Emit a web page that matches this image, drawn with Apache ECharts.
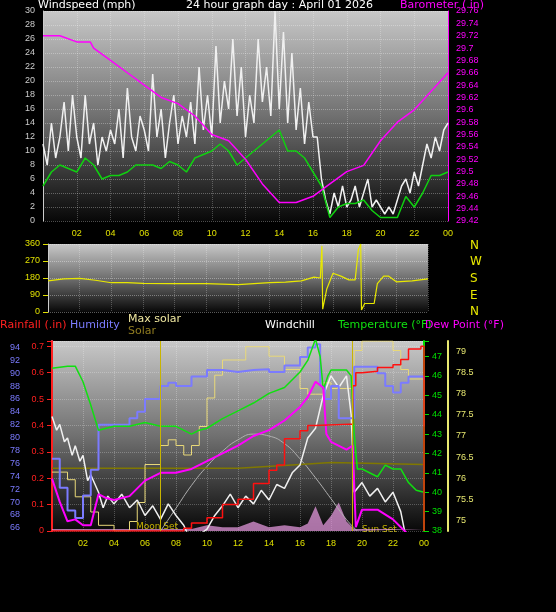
<!DOCTYPE html>
<html><head><meta charset="utf-8">
<script src="https://cdn.jsdelivr.net/npm/echarts@6/dist/echarts.min.js"></script>
<style>body{margin:0;background:#000}#c{width:556px;height:612px}</style>
</head><body><div id="c"></div>
<script>
// wind gust, one value every 15 minutes
const gust = [11,8,14,9,12,17,10,18,12, 9,18,11,14,8,12,10,13, 11,16,9,19,12,10,15,13,
  10,21,12,16,9,14,18,11, 15,12,17,11,22,13,18,12, 25,14,20,16,26,15,22,12,
  18,14,26,17,22,15,30,16, 27,14,24,13,19,11,17,12, 12,6,3,1,4,2,5,2,
  3,5,2,4,6,2,3,2, 1,2,1,3,5,6,4,7, 5,8,11,9,12,10,13,14];
// average wind, every 30 minutes
const windAvg = [5,7,8,7.5,7,9,8,6,6.5,6.5,7,8,8,8,7.5,8.5,8,7,9,9.5,10,11,10,8,9,10,11,12,13,10,10,9,7,5,0.5,2,2.5,2.5,3,1.5,0.5,0.5,0.5,3.5,2,4,6.5,6.5,7];
const baro = [[0,29.72],[1,29.72],[2,29.71],[2.8,29.71],[3,29.70],[4,29.68],[5,29.66],[6,29.64],[7,29.62],[8,29.61],[9,29.59],[10,29.56],[11,29.55],[12,29.52],[13,29.48],[14,29.45],[15,29.45],[16,29.46],[17,29.48],[18,29.50],[19,29.51],[20,29.55],[21,29.58],[22,29.60],[23,29.63],[24,29.66]];
const windDir = [[0,165],[1,175],[2,178],[3,168],[4,155],[5,155],[6,152],[8,150],[10,150],[12,145],[13,150],[14,155],[15,158],[16,165],[16.8,185],[17.2,180],[17.3,350],[17.35,15],[17.6,120],[18,205],[18.5,190],[19,170],[19.4,170],[19.6,330],[19.75,360],[19.8,10],[20,45],[20.6,45],[20.8,150],[21.2,190],[21.5,190],[22,160],[23,165],[24,175]];
const temp = [[0,46.4],[1,46.5],[1.5,46.5],[2,45.7],[2.5,44.5],[3,43.2],[3.5,43.3],[4,43.4],[5,43.4],[6,43.6],[7,43.4],[8,43.4],[9,43],[9.5,43.2],[10,43.3],[11,43.8],[12,44.2],[13,44.6],[14,45.1],[15,45.4],[16,46.2],[16.5,46.8],[17,47.9],[17.3,47],[17.5,45.3],[17.8,46],[18,46.3],[19,46.3],[19.3,46],[19.5,43],[19.7,41.2],[20,41.2],[21,40.8],[21.5,41.4],[22,41.2],[22.5,41.2],[23,40.5],[23.5,40.1],[24,40]];
const dew = [[0,40.7],[0.5,39.5],[1,38.5],[1.5,38.6],[2,38.3],[2.5,38.3],[3,39.9],[3.5,39.7],[4,39.6],[5,39.8],[6,40.6],[7,41],[8,41],[9,41.2],[10,41.6],[11,42],[12,42.4],[13,42.9],[14,43.2],[15,43.7],[16,44.4],[16.5,44.9],[17,45.7],[17.5,45.4],[17.7,43],[18,42.6],[19,42.2],[19.4,42.4],[19.6,38.2],[20,39.1],[21,39.1],[22,38.6],[23,37.8],[23.5,37.4],[24,37.2]];
const humidity = [[0,76.7],[0.5,72.2],[1,68.7],[1.5,67.5],[2,71],[2.5,75],[3,82],[3.5,82],[4,82],[5,83],[5.5,84],[6,86],[7,88],[7.5,88.5],[8,88],[9,89.5],[10,90.5],[11,90.2],[12,90.5],[13,90.6],[14,90.2],[15,91.2],[16,92.5],[16.5,94],[17,94.5],[17.3,88],[17.6,86],[18,88],[18.5,83],[19,83],[19.5,91],[20,91],[21,90],[21.5,88],[22,87],[22.5,88.5],[23,89.5],[24,89]];
const rain = [[0,0],[8,0],[8.5,0.01],[9,0.03],[10,0.05],[11,0.1],[12,0.12],[13,0.18],[14,0.23],[14.5,0.25],[15,0.35],[16,0.38],[16.5,0.4],[17,0.405],[19.2,0.405],[19.4,0.55],[19.6,0.6],[20,0.605],[21,0.62],[22,0.63],[22.5,0.65],[23,0.69],[23.8,0.7],[24,0.7],[24,0]];
const windchill = [[0,43.9],[0.3,43.2],[0.5,43.5],[0.8,42.6],[1,42.8],[1.3,41.9],[1.5,42.4],[1.8,41.6],[2,41.9],[2.3,40.6],[2.5,40.9],[3,40],[3.3,39.2],[3.6,39.8],[4,39.4],[4.5,39.9],[5,39.2],[5.5,39.6],[6,38.8],[6.5,39.3],[7,38.6],[7.5,39.4],[8,38.8],[8.5,38.3],[9,37.4],[9.5,37.8],[10,38.1],[10.5,38.8],[11,39.3],[11.5,39.9],[12,39.2],[12.5,39.8],[13,39.4],[13.5,40.1],[14,39.6],[14.5,40.4],[15,40.2],[15.5,41],[16,41.4],[16.5,42.8],[17,43.3],[17.5,45],[18,46],[18.5,45.4],[19,46],[19.3,44],[19.5,40],[20,40.5],[20.5,39.8],[21,40.2],[21.5,39.5],[22,40],[22.5,39],[23,37],[23.5,36],[24,36]];
const maxSolar = [[0,31],[1,27],[1.5,18],[2,18],[2.5,10],[3,3],[4,0],[5,5],[5.5,15],[6,35],[7,45],[7.5,48],[8,45],[8.5,40],[9,45],[9.5,55],[10,70],[10.5,82],[11,90],[12,90],[12.5,97],[13,97],[14,92],[15,85],[16,75],[16.5,72],[17,72],[17.5,78],[18,75],[19,75],[19.5,95],[20,100],[21,100],[22,95],[22.5,85],[23,80],[24,55]];
const solarLine = [[0,33],[6,33],[12,33],[16,35],[18,36],[24,35]];
const sunArc = [[7,0],[8,12],[9,24],[10,34],[11,42],[12,48],[13,51],[14,50],[15,46],[16,38],[17,28],[18,17],[19,6],[19.7,0]];
const uv = [[0,1],[9,1],[10,3],[11,2],[12,2],[13,5],[14,2],[15,3],[16,2],[16.5,4],[17,13],[17.5,3],[18,8],[18.5,15],[19,5],[19.5,1],[24,1]];

const bg = new echarts.graphic.LinearGradient(0,0,0,1,[{offset:0,color:'#c8c8c8'},{offset:0.5,color:'#707070'},{offset:1,color:'#080808'}]);
const hourFmt = v => v === 0 ? '' : String(v % 24).padStart(2,'0');
function xAx(gi, show) {
  return {type:'value', gridIndex:gi, min:0, max:24, interval:2,
    axisLine:{show:false}, axisTick:{show:false},
    axisLabel:{show:show, color:'#e0e000', fontSize:9, formatter:hourFmt},
    splitLine:{show:true, lineStyle:{color:'rgba(255,255,255,0.25)', type:'dotted'}}};
}
const lbl = (t,x,y,c,fs) => ({type:'text', left:x, top:y, style:{text:t, fill:c, font:(fs||11)+'px DejaVu Sans'}});
const wind = gust.map((v,i)=>[i*0.25,v]);
const avg = windAvg.map((v,i)=>[i*0.5,v]);

const chart = echarts.init(document.getElementById('c'));
chart.setOption({
  backgroundColor:'#000', animation:false,
  grid:[
    {left:43, top:11, width:405, height:210, show:true, backgroundColor:bg, borderWidth:0},
    {left:48, top:244, width:380, height:68, show:true, backgroundColor:bg, borderWidth:0},
    {left:52, top:341, width:372, height:190, show:true, backgroundColor:bg, borderWidth:0}
  ],
  xAxis:[xAx(0,true), xAx(1,false), xAx(2,true)],
  yAxis:[
    {gridIndex:0, min:0, max:30, interval:2, axisLine:{show:true,lineStyle:{color:'#ccc'}}, axisTick:{show:false},
      axisLabel:{color:'#ccc', fontSize:9}, splitLine:{lineStyle:{color:'rgba(255,255,255,0.3)',type:'dotted'}}},
    {gridIndex:0, position:'right', min:29.42, max:29.76, interval:0.02, axisLine:{show:true,lineStyle:{color:'#ff00ff'}},
      axisTick:{show:false}, axisLabel:{color:'#ff00ff', fontSize:9, formatter:v=>+v.toFixed(2)}, splitLine:{show:false}},
    {gridIndex:1, min:0, max:360, interval:90, axisLine:{show:true,lineStyle:{color:'#ccc'}}, axisTick:{show:true,lineStyle:{color:'#e0e000'}},
      axisLabel:{color:'#e0e000', fontSize:9}, splitLine:{lineStyle:{color:'rgba(255,255,255,0.35)',type:'dotted'}}},
    {gridIndex:2, position:'left', min:65.5, max:95, interval:0.5, offset:24, axisLine:{show:true,lineStyle:{color:'#7b7bff',width:2}}, axisTick:{show:false},
      axisLabel:{color:'#7b7bff', fontSize:9, formatter:v=>(v%2===0?v:'')}, splitLine:{show:false}},
    {gridIndex:2, position:'left', min:0, max:0.72, interval:0.1, axisLine:{show:true,lineStyle:{color:'#ff2020',width:2}}, axisTick:{show:true,lineStyle:{color:'#ff2020'}},
      axisLabel:{color:'#ff2020', fontSize:9, formatter:v=>(v>0.71?'':+v.toFixed(1))}, splitLine:{lineStyle:{color:'rgba(255,255,255,0.25)',type:'dotted'}}},
    {gridIndex:2, position:'right', min:38, max:47.8, interval:1, axisLine:{show:true,lineStyle:{color:'#00e000',width:2}}, axisTick:{show:true},
      axisLabel:{color:'#00e000', fontSize:9, formatter:v=>(Number.isInteger(v)?v:'')}, splitLine:{show:false}},
    {gridIndex:2, position:'right', offset:24, min:74.75, max:79.25, interval:0.25, axisLine:{show:true,lineStyle:{color:'#e8e870',width:2}}, axisTick:{show:false},
      axisLabel:{color:'#e8e870', fontSize:9, formatter:v=>(Math.abs(v*2-Math.round(v*2))<1e-6?+v.toFixed(1):'')}, splitLine:{show:false}},
    {gridIndex:2, show:false, min:0, max:100}
  ],
  series:[
    {type:'line', xAxisIndex:0, yAxisIndex:0, data:wind, symbol:'none', lineStyle:{color:'#f0f0f0',width:1.5}},
    {type:'line', xAxisIndex:0, yAxisIndex:0, data:avg, symbol:'none', lineStyle:{color:'#10d010',width:1.5}},
    {type:'line', xAxisIndex:0, yAxisIndex:1, data:baro, symbol:'none', lineStyle:{color:'#ff00ff',width:1.5}},
    {type:'line', xAxisIndex:1, yAxisIndex:2, data:windDir, symbol:'none', lineStyle:{color:'#e8e800',width:1.2}},
    {type:'line', xAxisIndex:2, yAxisIndex:7, data:uv, symbol:'none', lineStyle:{width:0}, areaStyle:{color:'#f0a0e8'}},
    {type:'line', xAxisIndex:2, yAxisIndex:7, data:sunArc, smooth:true, symbol:'none', lineStyle:{color:'#b0b0b0',width:1}},
    {type:'line', xAxisIndex:2, yAxisIndex:7, data:solarLine, symbol:'none', lineStyle:{color:'#807800',width:1.5}},
    {type:'line', xAxisIndex:2, yAxisIndex:7, data:maxSolar, step:'end', symbol:'none', lineStyle:{color:'#e8d878',width:1}},
    {type:'line', xAxisIndex:2, yAxisIndex:5, data:windchill, symbol:'none', lineStyle:{color:'#f0f0f0',width:1.5},
      markLine:{silent:true, symbol:'none', label:{show:false},
        lineStyle:{color:'#c8b400', type:'solid', width:1},
        data:[{xAxis:7},{xAxis:19.4}]}},
    {type:'line', xAxisIndex:2, yAxisIndex:3, data:humidity, step:'end', symbol:'none', lineStyle:{color:'#7b7bff',width:2}},
    {type:'line', xAxisIndex:2, yAxisIndex:5, data:temp, symbol:'none', lineStyle:{color:'#10e010',width:1.5}},
    {type:'line', xAxisIndex:2, yAxisIndex:5, data:dew, symbol:'none', lineStyle:{color:'#ff00ff',width:2}},
    {type:'line', xAxisIndex:2, yAxisIndex:4, data:rain, step:'end', symbol:'none', lineStyle:{color:'#ff1010',width:1.5}}
  ],
  graphic:[
    lbl('Windspeed (mph)',38,0,'#fff'),
    lbl('24 hour graph day : April 01 2026',186,0,'#fff'),
    lbl('Barometer (.in)',400,0,'#ff00ff'),
    lbl('N',470,240,'#e8e800',12), lbl('W',470,256,'#e8e800',12), lbl('S',470,273,'#e8e800',12),
    lbl('E',470,290,'#e8e800',12), lbl('N',470,306,'#e8e800',12),
    lbl('Rainfall (.in)',0,320,'#ff2020'),
    lbl('Humidity',70,320,'#7b7bff'),
    lbl('Max solar',128,314,'#f0e8a0'),
    lbl('Solar',128,326,'#907c20'),
    lbl('Windchill',265,320,'#fff'),
    lbl('Temperature (°F)',338,320,'#10e010'),
    lbl('Dew Point (°F)',425,320,'#ff00ff'),
    lbl('Moon Set',136,522,'#c8b400',9),
    lbl('Sun Set',362,525,'#c8b400',9)
  ]
});
</script></body></html>
